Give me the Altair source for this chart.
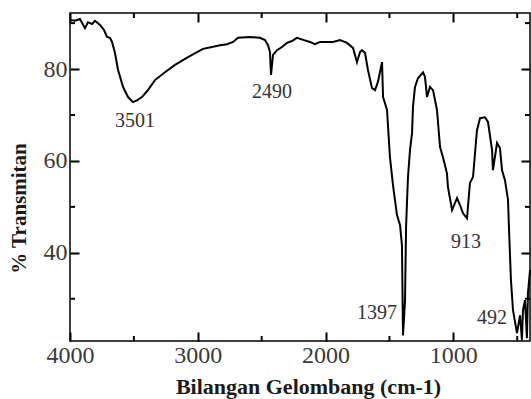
import altair as alt
import pandas as pd

# FTIR spectrum
wavenumber = [4000, 3961, 3922, 3883, 3859, 3828, 3804, 3765, 3734, 3710, 3687, 3671, 3648, 3624,
              3585, 3546, 3507, 3476, 3437, 3390, 3335, 3257, 3178, 3100, 3045, 2959, 2889, 2826,
              2771, 2724, 2685, 2591, 2513, 2474, 2450, 2435, 2427, 2411, 2380, 2341, 2302, 2263,
              2224, 2169, 2122, 2083, 2044, 1942, 1887, 1832, 1785, 1754, 1730, 1715, 1691, 1668,
              1637, 1613, 1590, 1558, 1550, 1519, 1496, 1472, 1441, 1417, 1402, 1394, 1378, 1370,
              1355, 1339, 1323, 1316, 1300, 1277, 1237, 1222, 1206, 1183, 1159, 1128, 1104, 1081,
              1050, 1042, 1010, 971, 948, 924, 893, 870, 846, 815, 791, 752, 729, 697, 690, 658,
              635, 619, 596, 572, 564, 549, 533, 502, 494, 478, 463, 455, 439, 424, 416, 400]
transmittance = [90.7, 90.5, 90.9, 88.9, 90.2, 89.8, 90.5, 89.6, 88.5, 87.0, 86.8, 85.9, 83.5, 79.8,
                 76.1, 73.9, 72.8, 73.2, 73.9, 75.4, 77.6, 79.3, 80.9, 82.2, 83.1, 84.4, 84.8, 85.2,
                 85.4, 85.9, 86.8, 87.0, 86.8, 86.3, 85.2, 83.7, 78.7, 83.1, 84.1, 84.8, 85.7, 86.1,
                 86.8, 86.3, 85.9, 85.4, 85.9, 85.9, 86.3, 85.7, 84.6, 81.5, 83.7, 84.1, 83.5, 79.8,
                 75.9, 75.4, 77.2, 81.5, 73.9, 71.1, 60.8, 54.7, 48.2, 46.0, 41.6, 22.0, 29.7, 45.6,
                 56.5, 62.4, 66.1, 71.7, 76.1, 78.0, 79.3, 78.3, 73.9, 76.1, 75.4, 71.1, 63.0, 60.8,
                 57.3, 54.3, 49.3, 51.9, 50.4, 48.6, 47.5, 55.2, 56.5, 66.7, 69.3, 69.5, 68.5, 62.4,
                 58.0, 63.9, 62.8, 58.0, 55.8, 51.5, 44.9, 34.0, 27.5, 22.5, 23.8, 26.4, 21.0, 27.5,
                 29.7, 21.4, 31.2, 36.2]

peak_labels = ["3501", "2490", "1397", "913", "492"]
label_wn = [3491, 2419, 1597, 901, 697]
label_t = [68.7, 75.0, 27.0, 42.3, 25.7]

x_major = [4000, 3000, 2000, 1000]
x_minor = [3500, 2500, 1500, 500]
y_major = [40, 60, 80]
y_minor = [30, 50, 70, 90]

W, H = 460, 328
MAJOR, MINOR = 9, 5

spec_df = pd.DataFrame({"wn": wavenumber, "T": transmittance, "i": list(range(len(wavenumber)))})
lab_df = pd.DataFrame({"wn": label_wn, "T": label_t, "text": peak_labels})

xscale = alt.Scale(domain=[4000, 400], nice=False, zero=False)
yscale = alt.Scale(domain=[20.8, 92.2], nice=False, zero=False)

FONT = "Liberation Serif"
tick_axis = dict(offset=-MAJOR, tickSize=MAJOR, tickWidth=2, tickColor="black",
                 domain=False, grid=False)

line = alt.Chart(spec_df).mark_line(color="black", strokeWidth=2).encode(
    x=alt.X("wn:Q", scale=xscale, axis=alt.Axis(
        orient="bottom", values=x_major, format="d", **tick_axis,
        labelFlush=False, labelOverlap=False, labelPadding=2,
        labelFont=FONT, labelFontSize=24, labelColor="#3a3a3a",
        title="Bilangan Gelombang (cm-1)", titleFont=FONT, titleFontSize=22,
        titleFontWeight="bold", titleColor="#1a1a1a", titleX=238, titleY=45 + MAJOR,
        titleBaseline="middle")),
    y=alt.Y("T:Q", scale=yscale, axis=alt.Axis(
        orient="left", values=y_major, format="d", **tick_axis,
        labelFlush=False, labelOverlap=False, labelPadding=3,
        labelFont=FONT, labelFontSize=24, labelColor="#3a3a3a",
        title="% Transmitan", titleFont=FONT, titleFontSize=21,
        titleFontWeight="bold", titleColor="#1a1a1a", titleX=-51 - MAJOR, titleY=195,
        titleBaseline="middle")),
    order="i:Q",
)

text = alt.Chart(lab_df).mark_text(font=FONT, fontSize=20, color="#333333",
                                   baseline="middle", align="center").encode(
    x=alt.X("wn:Q", scale=xscale, axis=alt.Axis(
        orient="top", values=x_major, labels=False, title=None, **tick_axis)),
    y=alt.Y("T:Q", scale=yscale, axis=alt.Axis(
        orient="right", values=y_major, labels=False, title=None, **tick_axis)),
    text="text:N",
)

xm_df = pd.DataFrame({"v": x_minor})
ym_df = pd.DataFrame({"v": y_minor})
rule = dict(color="black", strokeWidth=2)

minor_layers = [
    alt.Chart(xm_df).mark_rule(**rule).encode(
        x=alt.X("v:Q", scale=xscale, axis=None), y=alt.value(H), y2=alt.value(H - MINOR)),
    alt.Chart(xm_df).mark_rule(**rule).encode(
        x=alt.X("v:Q", scale=xscale, axis=None), y=alt.value(0), y2=alt.value(MINOR)),
    alt.Chart(ym_df).mark_rule(**rule).encode(
        y=alt.Y("v:Q", scale=yscale, axis=None), x=alt.value(0), x2=alt.value(MINOR)),
    alt.Chart(ym_df).mark_rule(**rule).encode(
        y=alt.Y("v:Q", scale=yscale, axis=None), x=alt.value(W), x2=alt.value(W - MINOR)),
]

chart = alt.layer(line, text, *minor_layers).resolve_axis(
    x="independent", y="independent").properties(
    width=W, height=H,
    padding={"left": 70, "top": 13, "right": 1, "bottom": 58},
    autosize=alt.AutoSizeParams(type="none"),
).configure_view(stroke="black", strokeWidth=1.5)

chart.save("out.html", embed_options={"renderer": "svg", "actions": False})
